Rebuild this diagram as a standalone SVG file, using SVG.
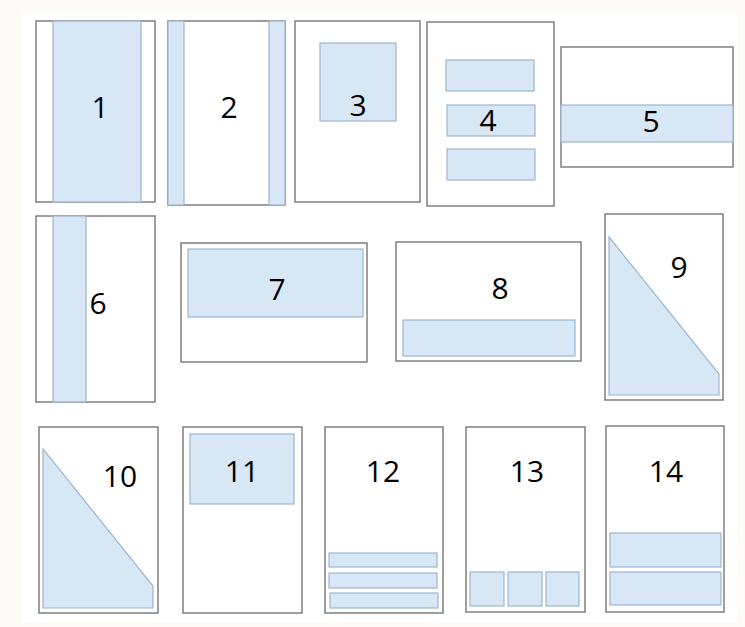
<svg xmlns="http://www.w3.org/2000/svg" width="745" height="627" viewBox="0 0 745 627">
<style>
.box{fill:#ffffff;stroke:#7f7f7f;stroke-width:1.5}
.blue{fill:#d8e7f6;stroke:#9cb6cf;stroke-width:1.2}
.lbl{font-family:"Open Sans","Liberation Sans",sans-serif;font-size:30px;fill:#000;text-anchor:middle}
</style>
<rect x="0" y="0" width="745" height="627" fill="#fdfbf8"/>
<rect x="22" y="14" width="715" height="608" fill="#ffffff"/>
<g id="n1"><rect class="box" x="36" y="21" width="119" height="181"/><rect class="blue" x="53" y="21" width="88" height="181"/><text class="lbl" x="100" y="118">1</text></g>
<g id="n2"><rect class="box" x="168" y="21" width="117" height="184"/><rect class="blue" x="168" y="21" width="16" height="184"/><rect class="blue" x="269" y="21" width="16" height="184"/><text class="lbl" x="229" y="118">2</text></g>
<g id="n3"><rect class="box" x="295" y="21" width="125" height="181"/><rect class="blue" x="320" y="43" width="76" height="78"/><text class="lbl" x="358" y="116">3</text></g>
<g id="n4"><rect class="box" x="427" y="22" width="127" height="184"/><rect class="blue" x="446" y="60" width="88" height="31"/><rect class="blue" x="447" y="105" width="88" height="31"/><rect class="blue" x="447" y="149" width="88" height="31"/><text class="lbl" x="488" y="131">4</text></g>
<g id="n5"><rect class="box" x="561" y="47" width="172" height="120"/><rect class="blue" x="561" y="105" width="172" height="37"/><text class="lbl" x="651" y="132">5</text></g>
<g id="n6"><rect class="box" x="36" y="216" width="119" height="186"/><rect class="blue" x="53" y="216" width="33" height="186"/><text class="lbl" x="98" y="314">6</text></g>
<g id="n7"><rect class="box" x="181" y="243" width="186" height="119"/><rect class="blue" x="188" y="249" width="175" height="68"/><text class="lbl" x="277" y="300">7</text></g>
<g id="n8"><rect class="box" x="396" y="242" width="185" height="119"/><rect class="blue" x="403" y="320" width="172" height="36"/><text class="lbl" x="500" y="299">8</text></g>
<g id="n9"><rect class="box" x="605" y="214" width="118" height="186"/><polygon class="blue" points="609,237 609,395 719,395 719,374"/><text class="lbl" x="679" y="278">9</text></g>
<g id="n10"><rect class="box" x="39" y="427" width="119" height="186"/><polygon class="blue" points="43,449 43,608 153,608 153,586"/><text class="lbl" x="120" y="487">10</text></g>
<g id="n11"><rect class="box" x="183" y="427" width="119" height="186"/><rect class="blue" x="190" y="434" width="104" height="70"/><text class="lbl" x="242" y="482">11</text></g>
<g id="n12"><rect class="box" x="325" y="427" width="118" height="186"/><rect class="blue" x="329" y="553" width="108" height="14"/><rect class="blue" x="329" y="573" width="108" height="15"/><rect class="blue" x="330" y="593" width="108" height="15"/><text class="lbl" x="383" y="482">12</text></g>
<g id="n13"><rect class="box" x="466" y="427" width="119" height="185"/><rect class="blue" x="470" y="572" width="34" height="34"/><rect class="blue" x="508" y="572" width="34" height="34"/><rect class="blue" x="546" y="572" width="33" height="34"/><text class="lbl" x="527" y="482">13</text></g>
<g id="n14"><rect class="box" x="606" y="426" width="118" height="186"/><rect class="blue" x="610" y="533" width="111" height="34"/><rect class="blue" x="610" y="572" width="111" height="33"/><text class="lbl" x="666" y="482">14</text></g>
<g id="connectors"></g>
</svg>
